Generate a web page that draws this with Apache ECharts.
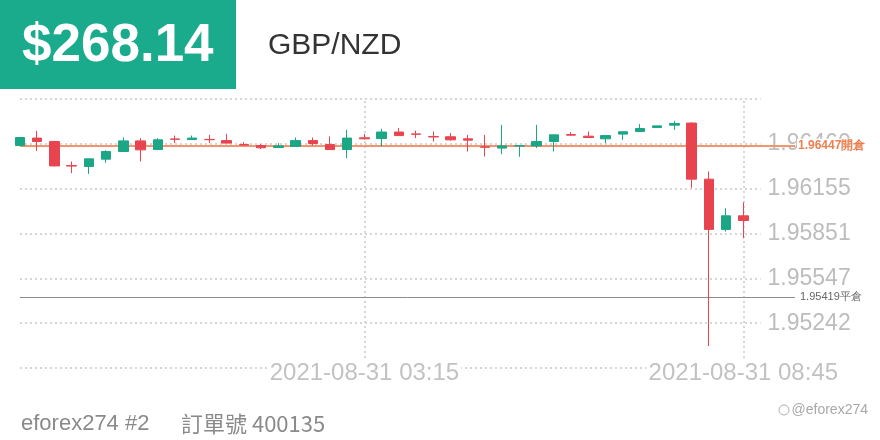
<!DOCTYPE html>
<html>
<head>
<meta charset="utf-8">
<script src="https://cdn.jsdelivr.net/npm/echarts@6/dist/echarts.min.js"></script>
<style>
html,body{margin:0;padding:0;background:#fff;}
#chart{width:880px;height:440px;}
</style>
</head>
<body>
<div id="chart"></div>
<script>
// ---- data ----
const categories = [
  '2021-08-30 22:15','2021-08-30 22:30','2021-08-30 22:45','2021-08-30 23:00','2021-08-30 23:15','2021-08-30 23:30','2021-08-30 23:45',
  '2021-08-31 00:00','2021-08-31 00:15','2021-08-31 00:30','2021-08-31 00:45','2021-08-31 01:00','2021-08-31 01:15','2021-08-31 01:30','2021-08-31 01:45',
  '2021-08-31 02:00','2021-08-31 02:15','2021-08-31 02:30','2021-08-31 02:45','2021-08-31 03:00','2021-08-31 03:15','2021-08-31 03:30','2021-08-31 03:45',
  '2021-08-31 04:00','2021-08-31 04:15','2021-08-31 04:30','2021-08-31 04:45','2021-08-31 05:00','2021-08-31 05:15','2021-08-31 05:30','2021-08-31 05:45',
  '2021-08-31 06:00','2021-08-31 06:15','2021-08-31 06:30','2021-08-31 06:45','2021-08-31 07:00','2021-08-31 07:15','2021-08-31 07:30','2021-08-31 07:45',
  '2021-08-31 08:00','2021-08-31 08:15','2021-08-31 08:30','2021-08-31 08:45','2021-08-31 09:00','2021-08-31 09:15','2021-08-31 09:30'
];
const openValues  = [1.96448,1.96499,1.96476,1.96312,1.96306,1.96356,1.96408,1.96480,1.96421,1.96493,1.96489,1.96490,1.96482,1.96455,1.96448,1.96435,1.96442,1.96482,1.96455,1.96421,1.96501,1.96496,1.96540,1.96527,1.96509,1.96508,1.96494,1.96439,1.96431,1.96445,1.96446,1.96476,1.96523,1.96512,1.96494,1.96526,1.96544,1.96571,1.96587,1.96601,1.96220,1.95879,1.95971];
const closeValues = [1.96503,1.96476,1.96310,1.96309,1.96358,1.96408,1.96480,1.96419,1.96487,1.96491,1.96499,1.96488,1.96465,1.96452,1.96433,1.96446,1.96482,1.96462,1.96421,1.96499,1.96494,1.96540,1.96516,1.96525,1.96507,1.96487,1.96485,1.96437,1.96446,1.96447,1.96476,1.96521,1.96519,1.96503,1.96516,1.96542,1.96564,1.96582,1.96598,1.96220,1.95879,1.95971,1.95939];
const lowValues   = [1.96448,1.96412,1.96307,1.96261,1.96256,1.96331,1.96406,1.96340,1.96421,1.96465,1.96489,1.96465,1.96465,1.96446,1.96424,1.96431,1.96440,1.96448,1.96421,1.96363,1.96489,1.96442,1.96516,1.96499,1.96476,1.96482,1.96408,1.96374,1.96390,1.96372,1.96431,1.96408,1.96516,1.96503,1.96465,1.96487,1.96544,1.96571,1.96555,1.96161,1.95087,1.95864,1.95819];
const highValues  = [1.96503,1.96548,1.96480,1.96340,1.96358,1.96416,1.96503,1.96499,1.96499,1.96516,1.96516,1.96521,1.96528,1.96472,1.96458,1.96465,1.96503,1.96503,1.96510,1.96555,1.96528,1.96562,1.96567,1.96550,1.96544,1.96533,1.96521,1.96521,1.96589,1.96447,1.96589,1.96521,1.96540,1.96544,1.96516,1.96542,1.96594,1.96582,1.96616,1.96606,1.96272,1.96023,1.96062];

const yMin = 1.949375, yMax = 1.967645;
const gridValues = [1.967645, 1.96460, 1.96155, 1.95851, 1.95547, 1.95242, 1.949375];
const gridLabels = ['', '1.96460', '1.96155', '1.95851', '1.95547', '1.95242', ''];
const xTickLabels = ['2021-08-31 03:15', '2021-08-31 08:45'];
const openPrice = 1.96447, openLabel = '1.96447開倉';
const closePrice = 1.95419, closeLabel = '1.95419平倉';
const gridEndCategory = '2021-08-31 09:00';

const profitText = '$268.14';
const symbolText = 'GBP/NZD';
const accountText = 'eforex274 #2';
const orderText = '訂單號 400135';
const watermarkText = '@eforex274';

// ---- build ----
const candleData = openValues.map((o, i) => [o, closeValues[i], lowValues[i], highValues[i]]);

const GREEN = '#1ba686';
const RED = '#e8444f';
const FONT = '"Liberation Sans", Arial, sans-serif';

const gridMarkData = gridValues.map((v, i) => [
  { xAxis: categories[0], yAxis: v,
    label: { show: gridLabels[i] !== '', formatter: gridLabels[i] } },
  { xAxis: gridEndCategory, yAxis: v }
]);
const vMarkData = xTickLabels.map(t => ({ xAxis: t, label: { show: false } }));

const chart = echarts.init(document.getElementById('chart'), null, { renderer: 'canvas' });
chart.setOption({
  animation: false,
  backgroundColor: '#fff',
  grid: { left: 20, right: 85, top: 99, bottom: 72 },
  xAxis: {
    type: 'category',
    data: categories,
    boundaryGap: false,
    z: 6,
    axisLine: { show: false },
    axisTick: { show: false },
    splitLine: { show: false },
    axisLabel: {
      interval: (idx, val) => xTickLabels.indexOf(val) >= 0,
      margin: -7,
      fontSize: 24,
      fontFamily: FONT,
      color: '#c2c2c2',
      backgroundColor: '#fff',
      padding: [0, 2]
    }
  },
  yAxis: {
    type: 'value',
    min: yMin, max: yMax,
    show: false,
    splitLine: { show: false }
  },
  graphic: [
    { type: 'rect', left: 0, top: 0, shape: { width: 236, height: 89 }, style: { fill: '#19ab8b' } },
    { type: 'text', x: 22, y: 46, style: { text: profitText, fill: '#fff', font: 'bold 53px ' + FONT, textVerticalAlign: 'middle' } },
    { type: 'text', x: 268, y: 46, style: { text: symbolText, fill: '#333', font: '30px ' + FONT, textVerticalAlign: 'middle' } },
    { type: 'text', x: 21, y: 424, style: { text: accountText, fill: '#8a8a8a', font: '22px ' + FONT, textVerticalAlign: 'middle' } },
    { type: 'text', x: 181, y: 424, style: { text: orderText, fill: '#8a8a8a', font: '22px "Noto Sans CJK TC", ' + FONT, textVerticalAlign: 'middle' } },
    { type: 'text', x: 868, y: 410, style: { text: watermarkText, fill: '#a8a8a8', font: '14px ' + FONT, textAlign: 'right', textVerticalAlign: 'middle' } },
    { type: 'circle', shape: { cx: 784, cy: 410, r: 5 }, style: { fill: 'none', stroke: '#b0b0b0', lineWidth: 1 } }
  ],
  series: [
    {
      type: 'line',
      data: [],
      silent: true,
      markLine: {
        silent: true,
        precision: 6,
        z: 1,
        symbol: ['none', 'none'],
        lineStyle: { color: '#d6d6d6', type: [2, 3], width: 2 },
        label: {
          position: 'end', distance: 7,
          fontSize: 23, fontFamily: FONT, color: '#bdbdbd'
        },
        data: gridMarkData.concat(vMarkData)
      }
    },
    {
      type: 'line',
      data: [],
      silent: true,
      markLine: {
        silent: true,
        precision: 6,
        z: 2,
        symbol: ['none', 'none'],
        data: [
          { yAxis: openPrice,
            lineStyle: { color: '#f0956e', type: 'solid', width: 2 },
            label: { position: 'end', distance: 2, formatter: openLabel, color: '#ec7f4f', fontSize: 12, fontWeight: 'bold', fontFamily: FONT, backgroundColor: '#fff', padding: [1, 1] } },
          { yAxis: closePrice,
            lineStyle: { color: '#8c8c8c', type: 'solid', width: 1 },
            label: { position: 'end', distance: 4, formatter: closeLabel, color: '#666', fontSize: 11, fontFamily: FONT, backgroundColor: '#fff', padding: [1, 1] } }
        ]
      }
    },
    {
      type: 'candlestick',
      z: 3,
      barWidth: 10,
      clip: true,
      data: candleData,
      itemStyle: {
        color: GREEN, color0: RED,
        borderColor: GREEN, borderColor0: RED,
        borderWidth: 1
      }
    }
  ]
});
</script>
</body>
</html>
